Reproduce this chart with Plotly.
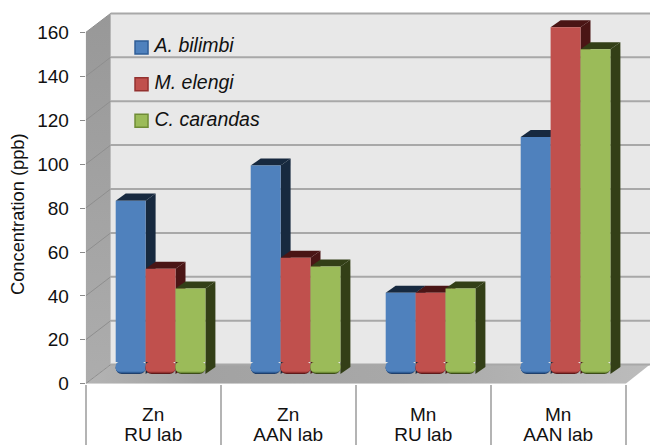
import plotly.graph_objects as go

# Concentration (ppb) of each metal/lab pair per species
metals = ["Zn", "Zn", "Mn", "Mn"]
labs = ["RU lab", "AAN lab", "RU lab", "AAN lab"]
a_bilimbi = [79, 95, 37, 108]
m_elengi = [48, 53, 37, 158]
c_carandas = [39, 49, 39, 148]
y_ticks = [0, 20, 40, 60, 80, 100, 120, 140, 160]

series = [
    ("A. bilimbi", a_bilimbi, "#4f81bd", "#17293f", "#1f3f6b", "#2f5d96"),
    ("M. elengi", m_elengi, "#c0504d", "#4a1515", "#5e1a1a", "#93312f"),
    ("C. carandas", c_carandas, "#9bbb59", "#333f17", "#3c4c18", "#6f8c36"),
]

# Pseudo-3D geometry, in axis units
BAR_W = 0.2215
GROUP_SHIFT = 0.0545
BAR_DX, BAR_DY = 0.074, 3.2
WALL_DX, WALL_DY = 0.185, 8.7
BASE = 4.4
FOOT = 5.5
X0, X1 = -0.5, 3.5
X_END = 3.68

fig = go.Figure()


def poly(xs, ys, color=None, **kw):
    fig.add_trace(go.Scatter(
        x=xs, y=ys, mode="lines", fill="toself", line=dict(width=0),
        fillcolor=color, hoverinfo="skip", showlegend=False, **kw))


# Back wall
poly([X0 + WALL_DX, X_END, X_END, X0 + WALL_DX],
     [WALL_DY, WALL_DY, 160 + WALL_DY, 160 + WALL_DY], "#e8e8e8")

# Side wall
poly([X0, X0 + WALL_DX, X0 + WALL_DX, X0],
     [0, WALL_DY, 160 + WALL_DY, 160],
     fillgradient=dict(type="vertical",
                       colorscale=[[0, "#adadad"], [1, "#989898"]]))

# Floor
poly([X0, X0 + WALL_DX, X_END, X1],
     [0, WALL_DY, WALL_DY, 0],
     fillgradient=dict(type="horizontal",
                       colorscale=[[0, "#b4b4b4"], [0.2, "#a2a2a2"],
                                   [0.55, "#a8a8a8"], [1, "#bcbcbc"]]))

# Gridlines on the back wall and their traces along the side wall
for t in y_ticks:
    fig.add_trace(go.Scatter(
        x=[X0 + WALL_DX, X_END], y=[t + WALL_DY, t + WALL_DY], mode="lines",
        line=dict(color="#a8a8a8", width=2), hoverinfo="skip", showlegend=False))
    fig.add_trace(go.Scatter(
        x=[X0, X0 + WALL_DX], y=[t, t + WALL_DY], mode="lines",
        line=dict(color="#8e8e8e", width=1), hoverinfo="skip", showlegend=False))

# Side and top faces, painted from the left series to the right one
for s, (name, vals, face, shade, dark, mid) in enumerate(series):
    for c, v in enumerate(vals):
        left = c + GROUP_SHIFT + (s - 1.5) * BAR_W
        right = left + BAR_W
        top = BASE + v
        poly([right, right + BAR_DX, right + BAR_DX, right],
             [BASE, BASE + BAR_DY, top + BAR_DY, top], shade)
        poly([left, left + BAR_DX, right + BAR_DX, right],
             [top, top + BAR_DY, top + BAR_DY, top], shade)

# Front faces sit on overlaid axes so they cover the neighbouring side faces
for s, (name, vals, face, shade, dark, mid) in enumerate(series):
    xs = [c + GROUP_SHIFT + (s - 1) * BAR_W for c in range(len(vals))]
    common = dict(x=xs, width=BAR_W, xaxis="x2", yaxis="y2",
                  showlegend=False, hoverinfo="skip")
    # rounded bottom edge, shaded in steps towards the floor
    for inset, color in [(0, dark), (0.5, mid), (1.1, face)]:
        fig.add_trace(go.Bar(y=[-(FOOT - inset)] * 4, base=[BASE + FOOT] * 4,
                             marker=dict(color=color, cornerradius=8, line_width=0),
                             **common))
    fig.add_trace(go.Bar(y=[v - FOOT for v in vals], base=[BASE + FOOT] * 4,
                         name=name, marker=dict(color=face, line_width=0),
                         x=xs, width=BAR_W, xaxis="x2", yaxis="y2",
                         showlegend=False))

# Key placed on the back wall
key_x = -0.5 + 0.4135
key_y = [153.2, 136.4, 119.8]
for (name, vals, face, shade, dark, mid), ky in zip(series, key_y):
    fig.add_trace(go.Scatter(
        x=[key_x], y=[ky], mode="markers+text", xaxis="x2", yaxis="y2",
        marker=dict(symbol="square", size=13, color=face,
                    line=dict(color=mid, width=1.5)),
        text=["<i>\u2009" + name + "</i>"], textposition="middle right",
        textfont=dict(family="Liberation Sans", size=19.5, color="#111111"),
        hoverinfo="skip", showlegend=False))

boundaries = [X0, 0.5, 1.5, 2.5, X1]
x_domain = [85.7 / 650, 1]
y_domain = [(445 - 383.7) / 445, 1]
x_range = [X0, X_END]
y_range = [0, 174.8]
label_font = dict(size=19, color="#111111")

fig.update_layout(
    width=650, height=445, margin=dict(l=0, r=0, t=0, b=0),
    paper_bgcolor="white", plot_bgcolor="white", barmode="overlay",
    showlegend=False,
    font=dict(family="Liberation Sans", color="#111111"),
    xaxis=dict(
        domain=x_domain, range=x_range, showgrid=False, zeroline=False,
        automargin=False,
        tickmode="array", tickvals=[0, 1, 2, 3], ticktext=metals,
        ticks="", ticklabelstandoff=17, tickangle=0, tickfont=label_font,
        minor=dict(tickmode="array", tickvals=boundaries, ticks="outside",
                   ticklen=62, tickwidth=1.5, tickcolor="#b4b4b4"),
    ),
    yaxis=dict(
        domain=y_domain, range=y_range, showgrid=False, zeroline=False,
        automargin=False,
        tickmode="array", tickvals=y_ticks, ticks="outside", ticklen=5,
        tickcolor="#8a8a8a", tickwidth=1,
        tickfont=dict(size=19, color="#111111"), ticklabelstandoff=7,
    ),
    xaxis2=dict(
        domain=x_domain, range=x_range, overlaying="x", automargin=False,
        showgrid=False, zeroline=False, showline=False, side="bottom",
        tickmode="array", tickvals=[0, 1, 2, 3], ticktext=labs,
        ticks="", ticklabelstandoff=37, tickangle=0, tickfont=label_font,
    ),
    yaxis2=dict(domain=y_domain, range=y_range, overlaying="y", visible=False),
    annotations=[dict(
        text="Concentration (ppb)", textangle=-90, showarrow=False,
        xref="paper", yref="paper", x=17 / 650, y=1 - 214 / 445,
        xanchor="center", yanchor="middle",
        font=dict(size=18.3, color="#111111"),
    )],
)

fig.write_html("out.html")
